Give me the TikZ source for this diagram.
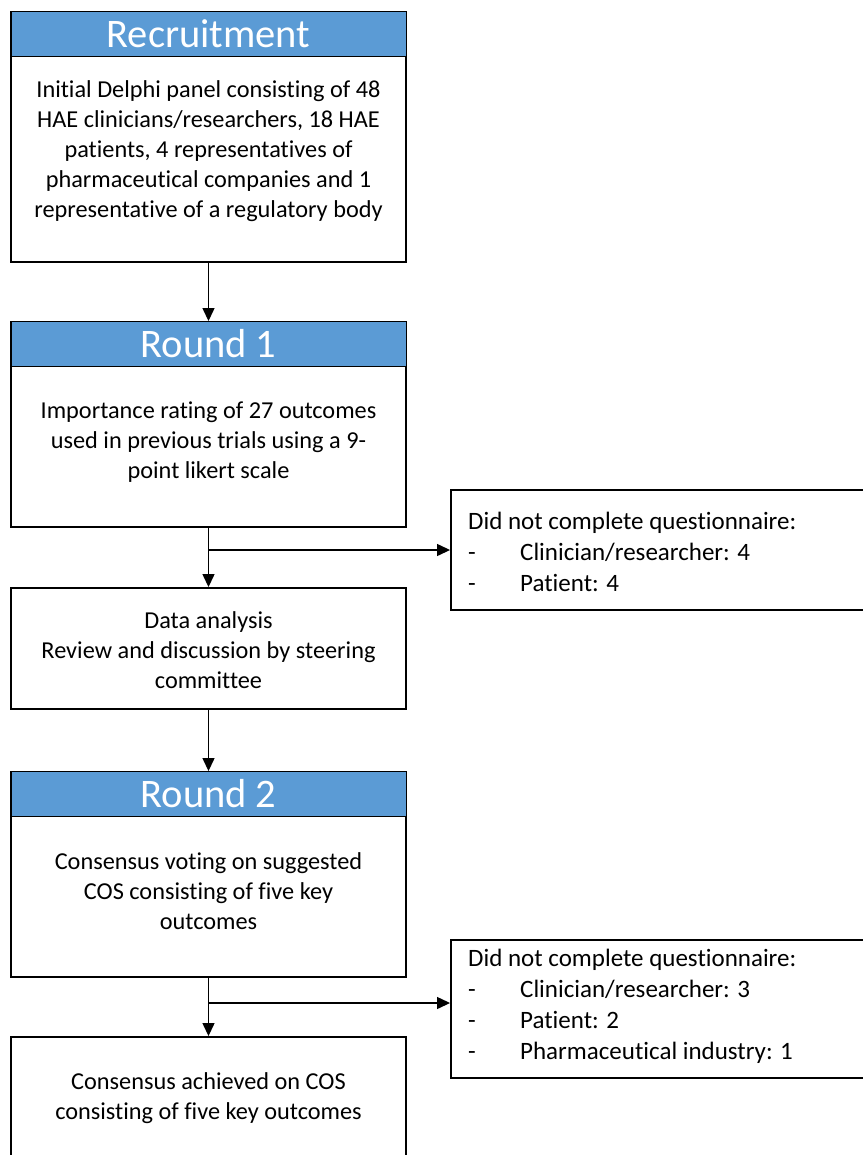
\documentclass[tikz,border=0pt]{standalone}
\usepackage{fontspec}
\setmainfont{Carlito}[Ligatures=NoCommon]
\usetikzlibrary{arrows.meta}
\definecolor{headblue}{RGB}{91,155,213}
\tikzset{box/.style={draw, line width=1.9pt, minimum width=395pt, inner sep=0pt},
  head/.style={draw, fill=headblue, line width=1pt, minimum width=395pt, minimum height=45pt,
    anchor=north, text=white, font=\fontsize{40.5}{44}\selectfont, inner sep=0pt},
  body/.style={align=center, font=\fontsize{24.3}{30}\selectfont, inner sep=0pt},
  side/.style={align=left, anchor=west, font=\fontsize{25}{31}\selectfont, inner sep=0pt},
  flow/.style={line width=1.3pt, -{Triangle[width=12pt,length=13pt]}}}
\newcommand{\dashitem}[1]{\makebox[52pt][l]{-}#1}

\begin{document}
\begin{tikzpicture}[x=1pt, y=-1pt]
\useasboundingbox (0,0) rectangle (862,1155);

% recruitment
\node[box, minimum height=250pt] (rec) at (208.5,137) {};
\node[head] (rechead) at (rec.north) {Recruitment};
\node[body] (rectext) at (208.5,151) {Initial Delphi panel consisting of 48\\HAE clinicians/researchers, 18 HAE\\patients, 4 representatives of\\pharmaceutical companies and 1\\representative of a regulatory body};

% round 1
\node[box, minimum height=205pt] (rone) at (208.5,424.5) {};
\node[head] (ronehead) at (rone.north) {Round 1};
\node[body] (ronetext) at (208.5,442) {Importance rating of 27 outcomes\\used in previous trials using a 9-\\point likert scale};

\node[box, minimum height=121pt] (anal) at (208.5,648.5) {};
\node[body] (analtext) at (208.5,650) {Data analysis\\Review and discussion by steering\\committee};

\node[box, minimum width=415pt, minimum height=120pt] (dropone) at (658.5,550) {};
\node[side] (droponetext) at (468,552) {Did not complete questionnaire:\\\dashitem{Clinician/researcher: 4}\\\dashitem{Patient: 4}};

% round 2
\node[box, minimum height=205pt] (rtwo) at (208.5,874.5) {};
\node[head] (rtwohead) at (rtwo.north) {Round 2};
\node[body] (rtwotext) at (208.5,891) {Consensus voting on suggested\\COS consisting of five key\\outcomes};

\node[box, minimum width=415pt, minimum height=138pt] (droptwo) at (658.5,1009) {};
\node[side] (droptwotext) at (468,1006) {Did not complete questionnaire:\\\dashitem{Clinician/researcher: 3}\\\dashitem{Patient: 2}\\\dashitem{Pharmaceutical industry: 1}};

\node[box, minimum height=133pt] (final) at (208.5,1103.5) {};
\node[body] (finaltext) at (208.5,1098) {Consensus achieved on COS\\consisting of five key outcomes};

% arrows
\draw[flow] (rec) -- (rone);
\draw[flow] (rone) -- (anal);
\draw[flow] (rone.south |- dropone.west) -- (dropone.west);
\draw[flow] (anal) -- (rtwo);
\draw[flow] (rtwo) -- (final);
\coordinate (branch) at (208.5,1003);
\draw[flow] (branch) -- (branch -| droptwo.west);

\end{tikzpicture}
\end{document}
